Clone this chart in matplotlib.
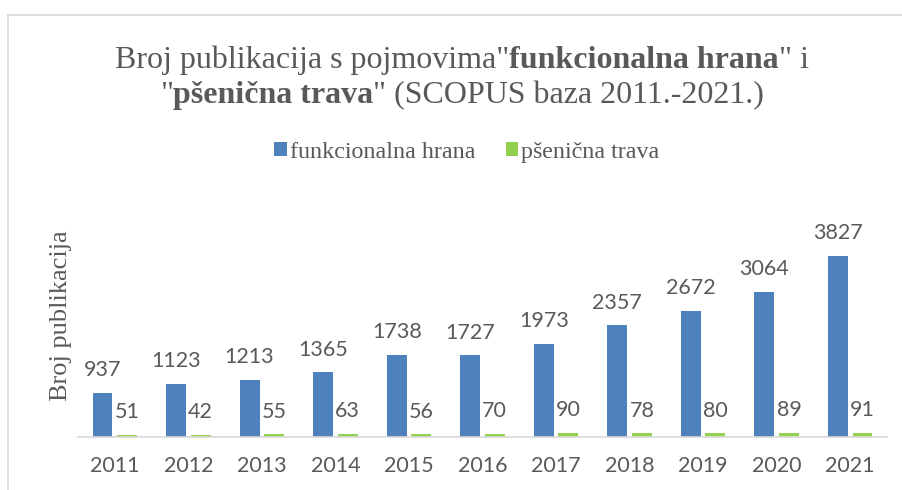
import matplotlib
matplotlib.use("Agg")
import matplotlib.pyplot as plt
from matplotlib.lines import Line2D
import numpy as np

years = ["2011", "2012", "2013", "2014", "2015", "2016", "2017", "2018", "2019", "2020", "2021"]
funkcionalna_hrana = [937, 1123, 1213, 1365, 1738, 1727, 1973, 2357, 2672, 3064, 3827]
psenicna_trava = [51, 42, 55, 63, 56, 70, 90, 78, 80, 89, 91]
series_names = ["funkcionalna hrana", "pšenična trava"]

BLUE = "#4F81BD"
GREEN = "#92D050"
TEXT = "#595959"
GRID = "#D9D9D9"
SERIF = ["Liberation Serif", "DejaVu Serif"]
SANS = ["Lato", "DejaVu Sans"]

W, H = 903, 490
fig = plt.figure(figsize=(W / 100, H / 100), dpi=100)
fig.patch.set_facecolor("white")

# outer chart border (left and top visible)
fig.add_artist(Line2D([8 / W, 8 / W], [0, 1 - 15 / H], transform=fig.transFigure, color=GRID, lw=1.2))
fig.add_artist(Line2D([8 / W, 1], [1 - 15 / H, 1 - 15 / H], transform=fig.transFigure, color=GRID, lw=1.2))

ax_l, ax_r = 78 / W, 887 / W
ax_b, ax_t = (H - 437) / H, (H - 224) / H
ax = fig.add_axes([ax_l, ax_b, ax_r - ax_l, ax_t - ax_b])

x = np.arange(len(years))
bw = 0.27
off = 0.167
b1 = ax.bar(x - off, funkcionalna_hrana, bw, color=BLUE, label=series_names[0])
b2 = ax.bar(x + off, psenicna_trava, bw, color=GREEN, label=series_names[1])

for bars, vals in ((b1, funkcionalna_hrana), (b2, psenicna_trava)):
    for rect, v in zip(bars, vals):
        ax.annotate(str(v), (rect.get_x() + rect.get_width() / 2, rect.get_height()),
                    xytext=(0, 12), textcoords="offset points", ha="center", va="baseline",
                    fontsize=15.5, color=TEXT, family=SANS, annotation_clip=False)

ax.set_xlim(-0.5, len(years) - 0.5)
ax.set_ylim(0, 4500)
ax.set_xticks(x)
ax.set_xticklabels(years, fontsize=15.5, color=TEXT, family=SANS)
ax.tick_params(axis="x", length=0, pad=14)
ax.set_yticks([])
for s in ("top", "right", "left"):
    ax.spines[s].set_visible(False)
ax.spines["bottom"].set_color(GRID)
ax.spines["bottom"].set_linewidth(1.2)

# y label
fig.text(61 / W, 1 - 316 / H, "Broj publikacija", rotation=90, ha="center", va="center",
         fontsize=19, color=TEXT, family=SERIF)

# title with mixed bold pieces
fig.canvas.draw()
renderer = fig.canvas.get_renderer()
title_lines = [
    [('Broj publikacija s pojmovima"', "normal"), ("funkcionalna hrana", "bold"), ('" i', "normal")],
    [('"', "normal"), ("pšenična trava", "bold"), ('" (SCOPUS baza 2011.-2021.)', "normal")],
]
baselines = [68, 103]
cx = 462
for parts, by in zip(title_lines, baselines):
    texts = []
    for s, wgt in parts:
        t = fig.text(0, 1 - by / H, s, fontsize=23, color=TEXT, family=SERIF, weight=wgt,
                     va="baseline", ha="left")
        texts.append(t)
    widths = [t.get_window_extent(renderer).width for t in texts]
    total = sum(widths)
    xpos = cx - total / 2
    for t, w in zip(texts, widths):
        t.set_x(xpos / W)
        xpos += w

leg = fig.legend(handles=[b1, b2], labels=series_names, loc="center",
                 bbox_to_anchor=(467 / W, 1 - 152 / H), ncol=2, frameon=False,
                 prop={"family": SERIF, "size": 17.3}, handlelength=0.5, handleheight=0.5,
                 handletextpad=0.15, columnspacing=1.25, labelcolor=TEXT)

fig.savefig("out.png", dpi=100, facecolor="white")
